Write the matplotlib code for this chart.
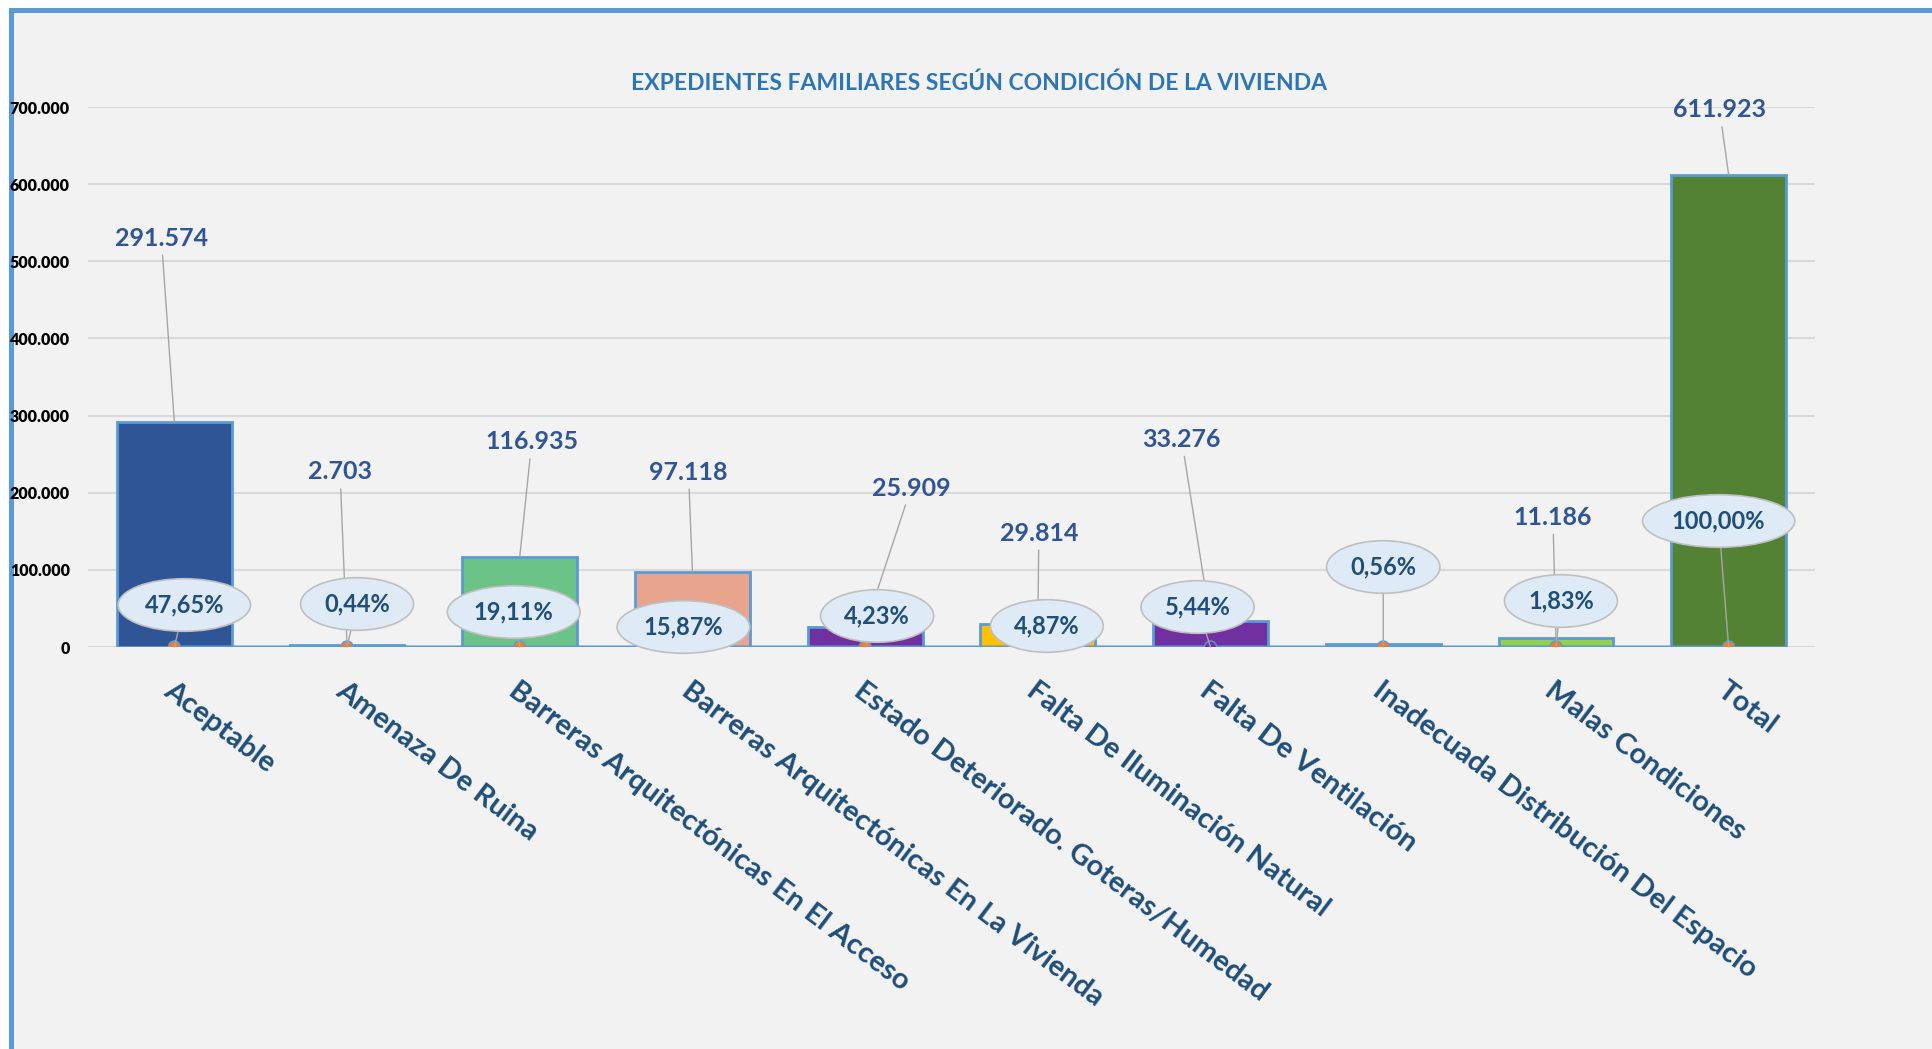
import matplotlib.pyplot as plt
from matplotlib.patches import Rectangle

# datos
categorias = ["Aceptable", "Amenaza De Ruina", "Barreras Arquitectónicas En El Acceso",
              "Barreras Arquitectónicas En La Vivienda", "Estado Deteriorado. Goteras/Humedad",
              "Falta De Iluminación Natural", "Falta De Ventilación",
              "Inadecuada Distribución Del Espacio", "Malas Condiciones", "Total"]
expedientes = [291574, 2703, 116935, 97118, 25909, 29814, 33276, 3408, 11186, 611923]
porcentaje = [47.65, 0.44, 19.11, 15.87, 4.23, 4.87, 5.44, 0.56, 1.83, 100.00]
mostrar_valor = [True, True, True, True, True, True, True, False, True, True]

colores = ["#2F5597", "#5B9BD5", "#6CC387", "#E8A48D", "#7030A0",
           "#FFC000", "#7030A0", "#5B9BD5", "#92D050", "#548235"]
color_marca = ["#ED7D31"] * 6 + ["#7030A0"] + ["#ED7D31"] * 3

# desplazamiento de etiquetas en pixeles
off_valor = [(-13, 184), (-7, 173), (12, 115), (-4, 100), (46, 139),
             (1, 91), (-29, 182), (0, 0), (-3, 121), (-9, 65)]
off_pct = [(10, 42), (10, 43), (-6, 35), (-9, 20), (12, 31),
           (9, 21), (-13, 40), (0, 80), (5, 46), (-10, 126)]

plt.rcParams["font.family"] = ["Lato", "DejaVu Sans"]

W, H = 1932, 1049
fig = plt.figure(figsize=(W / 100, H / 100), dpi=100, facecolor="white")
marco = Rectangle((11 / W, -0.05), 1.2, 1.05 - 10 / H, transform=fig.transFigure,
                  fc="#F2F2F2", ec="#5B9BD5", lw=3.6, zorder=-1)
fig.add_artist(marco)

ax = fig.add_axes([88 / W, (H - 647) / H, 1727 / W, 540 / H])
ax.set_facecolor("none")

x = list(range(len(categorias)))
ax.bar(x, expedientes, width=0.665, color=colores, edgecolor="#5B9BD5", lw=2, zorder=2)
ax.plot(x, [p / 100 for p in porcentaje], color="#5B9BD5", lw=2.2, zorder=3)
ax.scatter(x, [p / 100 for p in porcentaje], s=75, c=color_marca, edgecolors="#5B9BD5",
           linewidths=1, zorder=4)

for i, v in enumerate(expedientes):
    if not mostrar_valor[i]:
        continue
    ax.annotate(f"{v:,}".replace(",", "."), xy=(i, v), xytext=off_valor[i],
                textcoords="offset pixels", ha="center", va="center",
                fontsize=18, fontweight="bold", color="#2F5597", zorder=5,
                arrowprops=dict(arrowstyle="-", color="#A6A6A6", lw=1, shrinkA=2, shrinkB=0))

for i, p in enumerate(porcentaje):
    ax.annotate(f"{p:.2f}%".replace(".", ","), xy=(i, p / 100), xytext=off_pct[i],
                textcoords="offset pixels", ha="center", va="center",
                fontsize=17, fontweight="bold", color="#1F4E79", zorder=6,
                bbox=dict(boxstyle="ellipse,pad=0.3", fc="#DEEBF7", ec="#BFBFBF", lw=1.2),
                arrowprops=dict(arrowstyle="-", color="#A6A6A6", lw=1, shrinkA=0, shrinkB=0))

ax.set_xlim(-0.5, len(categorias) - 0.5)
ax.set_ylim(0, 700000)
ax.set_yticks(range(0, 700001, 100000))
ax.set_yticklabels([f"{t:,}".replace(",", ".") for t in range(0, 700001, 100000)],
                   fontsize=11.5, fontweight="heavy", color="black")
ax.set_xticks(x)
ax.set_xticklabels(categorias, rotation=-37, ha="left", va="top", rotation_mode="anchor",
                   fontsize=21, fontweight="bold", color="#1F4E79")
ax.tick_params(axis="x", length=0, pad=22)
ax.tick_params(axis="y", length=0, pad=13)
ax.yaxis.grid(True, color="#D9D9D9", lw=1.5)
ax.set_axisbelow(True)
for s in ax.spines.values():
    s.set_visible(False)

fig.text(979 / W, 1 - 83 / H, "EXPEDIENTES FAMILIARES SEGÚN CONDICIÓN DE LA VIVIENDA",
         ha="center", va="center", fontsize=16.5, fontweight="bold", color="#2E75B6")

fig.savefig("out.png", dpi=100)
